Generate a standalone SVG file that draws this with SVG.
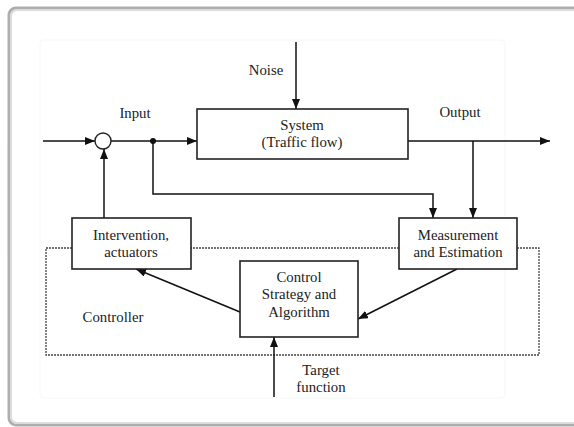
<svg xmlns="http://www.w3.org/2000/svg" width="574" height="427" viewBox="0 0 574 427">
<defs>
<marker id="ah" markerUnits="userSpaceOnUse" markerWidth="10" markerHeight="8" refX="10" refY="4" orient="auto">
<path d="M0,0 L10,4 L0,8 z" fill="#111"/>
</marker>
</defs>
<style>
.box{fill:#fff;stroke:#222;stroke-width:1.6}
.t{font-family:"Liberation Serif","Times New Roman",serif;font-size:14.8px;fill:#222;text-anchor:middle}
.c{fill:none;stroke:#111;stroke-width:1.5}
.a{marker-end:url(#ah)}
</style>
<rect x="0" y="0" width="574" height="427" fill="#fff"/>
<rect x="9" y="8" width="620" height="417" rx="7" fill="#fff" stroke="#9a9a9a" stroke-width="3" opacity="0.8"/>
<rect x="11" y="10" width="620" height="413" rx="6" fill="#fff" stroke="#dcdcdc" stroke-width="2"/>
<rect x="40" y="40" width="465" height="358" rx="4" fill="none" stroke="#f7f7f7" stroke-width="1"/>
<rect id="controller-frame" x="46" y="248" width="493" height="107" fill="none" stroke="#444" stroke-width="1.3" stroke-dasharray="2,1"/>
<g id="connectors">
<path class="c a" d="M43,141 H95"/>
<path class="c a" d="M111,141 H197"/>
<circle cx="153" cy="141" r="3" fill="#111"/>
<path class="c a" d="M296,42 V109"/>
<path class="c a" d="M408,141 H550"/>
<path class="c a" d="M473,141 V218"/>
<path class="c a" d="M153,141 V194 H433 V218"/>
<path class="c a" d="M104,218 V149"/>
<path class="c a" d="M457,269 L358,319"/>
<path class="c a" d="M240,312 L136,269"/>
<path class="c a" d="M274,397 V337"/>
</g>
<g id="sum"><circle cx="103" cy="141" r="8" fill="#fff" stroke="#222" stroke-width="1.4"/></g>
<g id="system">
<rect class="box" x="197" y="109" width="211" height="50"/>
<text class="t" x="302" y="130">System</text>
<text class="t" x="302" y="147">(Traffic flow)</text>
</g>
<g id="measurement">
<rect class="box" x="399" y="218" width="118" height="51"/>
<text class="t" x="458" y="240">Measurement</text>
<text class="t" x="458" y="257">and Estimation</text>
</g>
<g id="intervention">
<rect class="box" x="72" y="218" width="119" height="51"/>
<text class="t" x="131" y="240">Intervention,</text>
<text class="t" x="131" y="257">actuators</text>
</g>
<g id="control">
<rect class="box" x="240" y="261" width="118" height="76"/>
<text class="t" x="299" y="282">Control</text>
<text class="t" x="299" y="299">Strategy and</text>
<text class="t" x="299" y="317">Algorithm</text>
</g>
<g id="labels">
<text class="t" x="266" y="75">Noise</text>
<text class="t" x="135" y="118">Input</text>
<text class="t" x="460" y="117">Output</text>
<text class="t" x="113" y="322">Controller</text>
<text class="t" x="321" y="375">Target</text>
<text class="t" x="321" y="392">function</text>
</g>
</svg>
